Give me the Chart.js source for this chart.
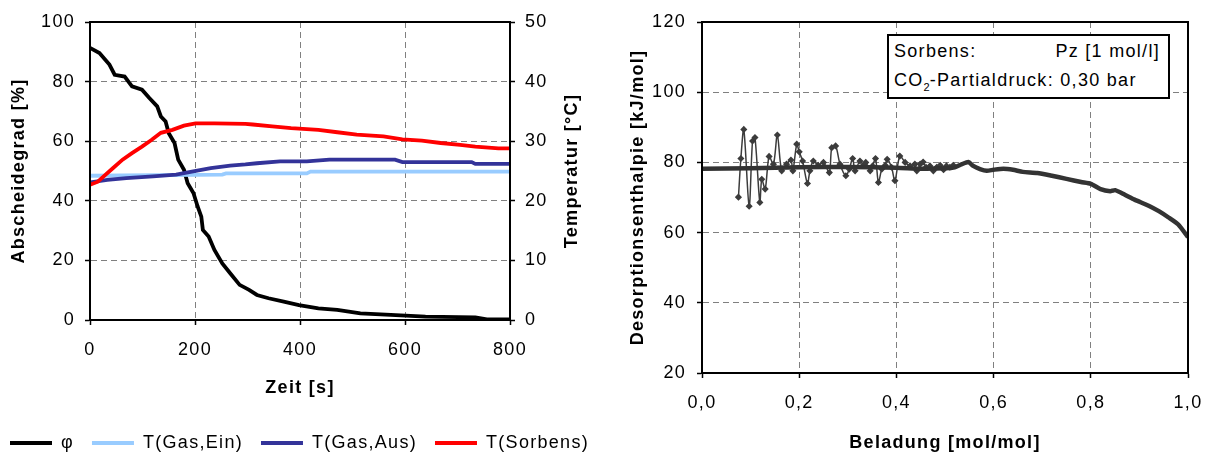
<!DOCTYPE html>
<html>
<head>
<meta charset="utf-8">
<script src="https://cdn.jsdelivr.net/npm/chart.js@4"></script>
<style>
  html, body { margin: 0; padding: 0; background: #fff; }
  body { position: relative; width: 1206px; height: 456px; overflow: hidden; font-family: 'Liberation Sans', Arial, sans-serif; }
  #leftChart { position: absolute; left: 0; top: 0; }
  #rightChart { position: absolute; left: 600px; top: 0; }
  #note {
    position: absolute; left: 887px; top: 34px; width: 279px; height: 60px;
    border: 2px solid #000; background: #fff; font-size: 18px; letter-spacing: 1.3px;
    line-height: 29px; padding-top: 1px; color: #000;
  }
  #note .row { display: flex; justify-content: space-between; padding: 0 8px 0 5px; }
  #note sub { font-size: 11px; line-height: 0; vertical-align: -5px; letter-spacing: 0; }
</style>
</head>
<body>
<canvas id="leftChart" width="700" height="456"></canvas>
<canvas id="rightChart" width="606" height="456"></canvas>
<div id="note">
  <div class="row"><span>Sorbens:</span><span>Pz [1 mol/l]</span></div>
  <div class="row"><span>CO<sub>2</sub>-Partialdruck: 0,30 bar</span></div>
</div>
<script>
// --- left chart: Abscheidegrad + Temperaturen ueber Zeit ---
const phiTime   = [0, 18, 37, 47, 66, 80, 99, 113, 128, 135, 144, 150, 161, 168, 179, 186, 197, 205, 212, 215, 226, 237, 252, 267, 285, 303, 318, 340, 369, 398, 435, 471, 515, 573, 639, 734, 756, 800];
const phiValues = [91.3, 89.6, 85.7, 82.3, 81.7, 78.4, 77.3, 74.5, 71.7, 68.3, 66.6, 62.7, 59.4, 53.8, 50.4, 45.9, 42.6, 38.1, 34.7, 30.2, 28.0, 23.5, 19.0, 15.7, 11.8, 10.1, 8.4, 7.3, 6.2, 5.0, 3.9, 3.4, 2.2, 1.7, 1.1, 0.9, 0.2, 0.2];

const gasInTime   = [0, 252, 259, 413, 420, 800];
const gasInValues = [24.2, 24.4, 24.6, 24.6, 24.9, 24.9];

const gasOutTime   = [0, 33, 69, 120, 164, 194, 230, 267, 296, 318, 362, 413, 456, 581, 595, 727, 734, 800];
const gasOutValues = [23.1, 23.5, 23.8, 24.1, 24.4, 24.9, 25.5, 25.9, 26.1, 26.3, 26.6, 26.6, 26.9, 26.9, 26.5, 26.5, 26.2, 26.2];

const sorbTime   = [0, 15, 26, 44, 62, 80, 99, 117, 135, 157, 179, 201, 237, 296, 310, 347, 383, 435, 471, 508, 559, 595, 632, 668, 705, 734, 778, 800];
const sorbValues = [22.7, 23.2, 24.1, 25.5, 26.9, 28.0, 29.1, 30.2, 31.4, 31.9, 32.6, 33.0, 33.0, 32.9, 32.8, 32.5, 32.2, 31.9, 31.5, 31.1, 30.8, 30.3, 30.1, 29.7, 29.4, 29.1, 28.8, 28.8];

// --- right chart: Desorptionsenthalpie ueber Beladung ---
const fitLoad     = [0, 0.1, 0.2, 0.3, 0.4, 0.45, 0.5, 0.52, 0.535, 0.548, 0.558, 0.572, 0.586, 0.6, 0.62, 0.64, 0.66, 0.69, 0.72, 0.75, 0.78, 0.8, 0.82, 0.84, 0.85, 0.87, 0.89, 0.92, 0.94, 0.96, 0.98, 1.0];
const fitEnthalpy = [78.2, 78.3, 78.6, 78.7, 78.5, 78.2, 78.3, 78.6, 79.5, 80.1, 79.0, 78.1, 77.6, 77.9, 78.2, 77.9, 77.3, 77.0, 76.2, 75.3, 74.4, 73.9, 72.4, 71.8, 72.1, 70.8, 69.4, 67.6, 66.1, 64.3, 62.3, 58.7];

const measLoad = [0.075, 0.080, 0.086, 0.097, 0.104, 0.109, 0.119, 0.123, 0.130, 0.138, 0.147, 0.155, 0.164, 0.174, 0.183, 0.187, 0.195, 0.200, 0.207, 0.217, 0.222, 0.229, 0.239, 0.250, 0.262, 0.267, 0.275, 0.284, 0.296, 0.303, 0.310, 0.315, 0.325, 0.332, 0.337, 0.346, 0.351, 0.357, 0.363, 0.370, 0.377, 0.381, 0.390, 0.397, 0.407, 0.418, 0.428, 0.438, 0.442, 0.449, 0.455, 0.461, 0.469, 0.476, 0.483, 0.490, 0.497, 0.503, 0.510, 0.517];
const measEnthalpy = [70.1, 81.1, 89.4, 67.5, 86.1, 87.1, 68.6, 75.2, 72.4, 81.7, 79.5, 87.8, 77.6, 79.5, 80.7, 77.6, 85.2, 83.0, 80.4, 74.0, 77.6, 80.4, 79.2, 80.0, 77.1, 84.2, 84.7, 79.5, 76.2, 78.1, 81.1, 77.6, 80.4, 79.2, 80.0, 77.6, 79.0, 81.1, 74.3, 78.1, 79.2, 80.9, 78.6, 74.8, 81.8, 80.0, 79.0, 79.5, 77.6, 79.5, 80.1, 78.6, 79.0, 77.6, 78.6, 79.2, 77.9, 79.0, 78.6, 79.2];

const beladungTicks = ['0,0', '0,2', '0,4', '0,6', '0,8', '1,0'];

function pts(xs, ys) {
  return xs.map((x, i) => ({ x: x, y: ys[i] }));
}

const FONT = "'Liberation Sans', Arial, sans-serif";
Chart.defaults.font.family = FONT;
Chart.defaults.font.size = 18;
Chart.defaults.color = '#000';

// Excel-style text is a bit spread out
const spacing = {
  id: 'spacing',
  beforeLayout(chart) { chart.ctx.letterSpacing = '1.3px'; },
  beforeDraw(chart) { chart.ctx.letterSpacing = '1.3px'; }
};

const frame = {
  id: 'frame',
  afterDatasetsDraw(chart) {
    const a = chart.chartArea;
    const ctx = chart.ctx;
    ctx.save();
    ctx.strokeStyle = '#000';
    ctx.lineWidth = 2;
    ctx.strokeRect(a.left, a.top, a.right - a.left, a.bottom - a.top);
    ctx.restore();
  }
};

// right axis title reads bottom-to-top like the left one
const tempTitle = {
  id: 'tempTitle',
  afterDraw(chart) {
    const a = chart.chartArea;
    const ctx = chart.ctx;
    ctx.save();
    ctx.font = 'bold 18px ' + FONT;
    ctx.fillStyle = '#000';
    ctx.textAlign = 'center';
    ctx.textBaseline = 'middle';
    ctx.translate(a.right + 62, (a.top + a.bottom) / 2);
    ctx.rotate(-Math.PI / 2);
    ctx.fillText('Temperatur [°C]', 0, 0);
    ctx.restore();
  }
};

const gridOpts = { color: '#808080', lineWidth: 1, tickColor: '#000', tickLength: 5, tickWidth: 1.5, tickBorderDash: [] };
const borderOpts = { color: '#000', width: 2, dash: [6, 4] };
const titleFont = { weight: 'bold', size: 18 };

function line(label, xs, ys, color, axis, order) {
  return {
    label: label, data: pts(xs, ys), yAxisID: axis, order: order,
    showLine: true, borderColor: color, backgroundColor: color,
    borderWidth: 3.8, pointRadius: 0, tension: 0
  };
}

new Chart(document.getElementById('leftChart'), {
  type: 'scatter',
  data: {
    datasets: [
      line('φ', phiTime, phiValues, '#000000', 'y', 4),
      line('T(Gas,Ein)', gasInTime, gasInValues, '#99ccff', 'y2', 3),
      line('T(Gas,Aus)', gasOutTime, gasOutValues, '#333399', 'y2', 2),
      line('T(Sorbens)', sorbTime, sorbValues, '#ff0000', 'y2', 1)
    ]
  },
  options: {
    responsive: false,
    animation: false,
    layout: { padding: { top: 22, left: -8, right: 0, bottom: -6 } },
    plugins: {
      tooltip: { enabled: false },
      legend: {
        position: 'bottom',
        align: 'start',
        labels: {
          usePointStyle: true, pointStyle: 'line', pointStyleWidth: 42, padding: 18,
          color: '#000', font: { size: 18 },
          sort: (a, b) => a.datasetIndex - b.datasetIndex
        }
      }
    },
    scales: {
      x: {
        type: 'linear', min: 0, max: 800,
        ticks: { stepSize: 200, padding: 14 },
        grid: gridOpts, border: borderOpts,
        title: { display: true, text: 'Zeit [s]', font: titleFont, padding: { top: 0, bottom: 17 } },
        afterFit(s) { s.height = 96; }
      },
      y: {
        position: 'left', min: 0, max: 100,
        ticks: { stepSize: 20, padding: 10 },
        grid: gridOpts, border: borderOpts,
        title: { display: true, text: 'Abscheidegrad [%]', font: titleFont, padding: { top: 16, bottom: 0 } },
        afterFit(s) { s.width = 98; }
      },
      y2: {
        position: 'right', min: 0, max: 50,
        ticks: { stepSize: 10, padding: 10 },
        grid: Object.assign({}, gridOpts, { drawOnChartArea: false }), border: borderOpts,
        afterFit(s) { s.width = 190; }
      }
    }
  },
  plugins: [spacing, frame, tempTitle]
});

new Chart(document.getElementById('rightChart'), {
  type: 'scatter',
  data: {
    datasets: [
      {
        label: 'Anpassung', data: pts(fitLoad, fitEnthalpy), order: 1,
        showLine: true, borderColor: '#333333', backgroundColor: '#333333',
        borderWidth: 4.5, pointRadius: 0, tension: 0.2
      },
      {
        label: 'Messung', data: pts(measLoad, measEnthalpy), order: 2,
        showLine: true, borderColor: '#3c3c3c', backgroundColor: '#3c3c3c',
        borderWidth: 1.5, pointRadius: 2.5, pointStyle: 'rectRot', tension: 0.3
      }
    ]
  },
  options: {
    responsive: false,
    animation: false,
    layout: { padding: { top: 22, left: 0, right: 18, bottom: 0 } },
    plugins: { tooltip: { enabled: false }, legend: { display: false } },
    scales: {
      x: {
        type: 'linear', min: 0, max: 1,
        ticks: { stepSize: 0.2, padding: 14, callback: (v, i) => beladungTicks[i] },
        grid: gridOpts, border: borderOpts,
        title: { display: true, text: 'Beladung [mol/mol]', font: titleFont, padding: { top: 0, bottom: 2 } },
        afterFit(s) { s.height = 83; s.paddingLeft = 0; s.paddingRight = 0; }
      },
      y: {
        min: 20, max: 120,
        ticks: { stepSize: 20, padding: 11 },
        grid: gridOpts, border: borderOpts,
        title: { display: true, text: 'Desorptionsenthalpie [kJ/mol]', font: titleFont, padding: { top: 27, bottom: 0 } },
        afterFit(s) { s.width = 102; }
      }
    }
  },
  plugins: [spacing, frame]
});
</script>
</body>
</html>
